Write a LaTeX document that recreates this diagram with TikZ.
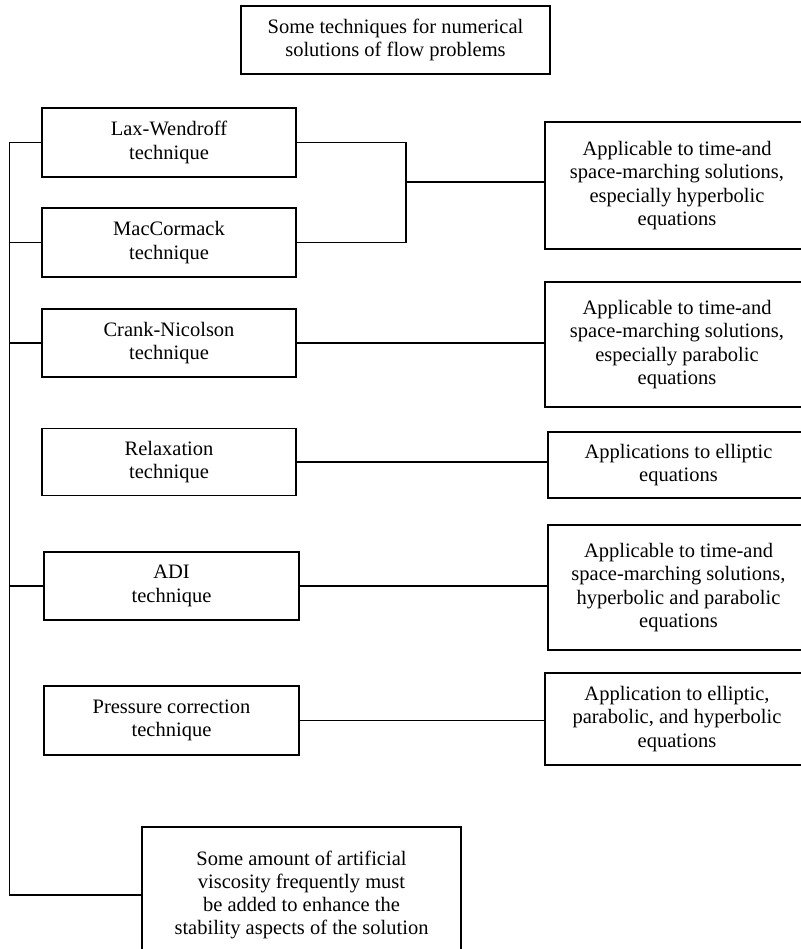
\documentclass[tikz,border=0pt]{standalone}
\usepackage{fontspec}
\setmainfont{Liberation Serif}

\begin{document}
\begin{tikzpicture}[x=1pt, y=-1pt,
		% Styles
		box/.style={draw, line width=1.8pt, align=center, inner sep=0pt, font=\fontsize{20.5}{23.3}\selectfont},
		technique box/.style={box, minimum width=254pt, minimum height=69pt},
		application box/.style={box, minimum width=264pt},
		link/.style={line width=1.7pt}
		]
		
		\useasboundingbox (0,0) rectangle (800,949);
		
		% Title
		\node[box, minimum width=309pt, minimum height=68pt] (title) at (395.5,40) {Some techniques for numerical\\solutions of flow problems};
		
		% Techniques (left column)
		\node[technique box] (lax) at (169,142.5) {Lax-Wendroff\\technique};
		\node[technique box] (mac) at (169,242.5) {MacCormack\\technique};
		\node[technique box, minimum height=68pt] (crank) at (169,343) {Crank-Nicolson\\technique};
		\node[technique box, minimum height=67pt] (relax) at (169,462) {Relaxation\\technique};
		\node[technique box, minimum width=255pt, minimum height=68pt] (adi) at (171.5,586) {ADI\\technique};
		\node[technique box, minimum width=255pt] (press) at (171.5,720.5) {Pressure correction\\technique};
		\node[box, minimum width=319pt, minimum height=136pt] (visc) at (301.5,895) {Some amount of artificial\\viscosity frequently must\\be added to enhance the\\stability aspects of the solution};
		
		% Applications (right column, cut by the page edge)
		\node[application box, minimum height=127pt] (app1) at (677,185.5) {Applicable to time-and\\space-marching solutions,\\especially hyperbolic\\equations};
		\node[application box, minimum height=125pt] (app2) at (677,344.5) {Applicable to time-and\\space-marching solutions,\\especially parabolic\\equations};
		\node[application box, minimum width=261pt, minimum height=66pt] (app3) at (678.5,465) {Applications to elliptic\\equations};
		\node[application box, minimum width=261pt, minimum height=125pt] (app4) at (678.5,587.5) {Applicable to time-and\\space-marching solutions,\\hyperbolic and parabolic\\equations};
		\node[application box, minimum height=92pt] (app5) at (677,719) {Application to elliptic,\\parabolic, and hyperbolic\\equations};
		
		% Left trunk
		\coordinate (trunk) at (9.5,0);
		\draw[link] (lax.west) -- (lax.west -| trunk) -- (visc.west -| trunk) -- (visc.west);
		\foreach \t in {mac, crank, adi}
			\draw[link] (\t.west) -- (\t.west -| trunk);
		
		% Right links
		\coordinate (joint) at (406,182);
		\draw[link] (lax.east) -- (lax.east -| joint) -- (mac.east -| joint) -- (mac.east);
		\draw[link] (joint) -- (joint -| app1.west);
		\draw[link] (crank.east) -- (crank.east -| app2.west);
		\draw[link] (relax.east) -- (relax.east -| app3.west);
		\draw[link] (adi.east) -- (adi.east -| app4.west);
		\draw[link] (press.east) -- (press.east -| app5.west);
		
	\end{tikzpicture}
\end{document}
